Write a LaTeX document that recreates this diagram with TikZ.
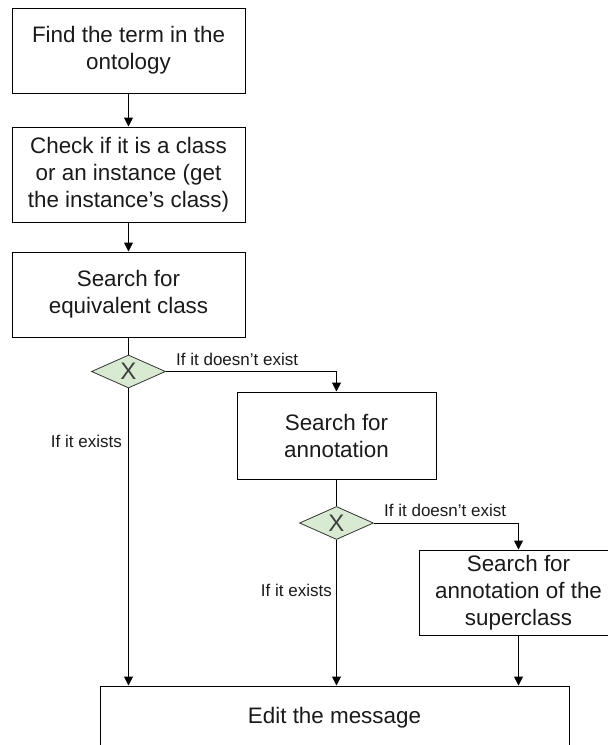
\documentclass[tikz,border=0pt]{standalone}
\usepackage{fontspec}
\setmainfont{Liberation Sans}
\usetikzlibrary{shapes.geometric,arrows.meta}
\definecolor{txt}{HTML}{1A1A1A}
\definecolor{dfill}{HTML}{D9EAD3}
\begin{document}
\begin{tikzpicture}[x=1pt,y=1pt,
  box/.style={draw=black,line width=1pt,rectangle,align=center,inner sep=0pt,text=txt,
    font=\fontsize{22.4}{27}\selectfont},
  gate/.style={draw=black!80,line width=0.8pt,diamond,fill=dfill,inner sep=0pt,
    minimum width=74pt,minimum height=33pt,text=black!75,font=\fontsize{24}{24}\selectfont},
  lbl/.style={text=txt,inner sep=0pt,font=\fontsize{17}{20}\selectfont},
  conn/.style={line width=1pt,draw=black},
  arr/.style={conn,-{Triangle[width=9pt,length=9pt]}}]
\useasboundingbox (0,0) rectangle (608,-745);
\clip (0,0) rectangle (608,-745);
\node[box,minimum width=233pt,minimum height=85pt] (b1) at (128.5,-50.5) {Find the term in the\\ontology};
\node[box,minimum width=233pt,minimum height=95pt] (b2) at (128.5,-174.5) {Check if it is a class\\or an instance (get\\the instance’s class)};
\node[box,minimum width=233pt,minimum height=85pt] (b3) at (128.5,-294.5) {Search for\\equivalent class};
\node[gate] (d1) at (128.5,-371.5) {X};
\node[box,minimum width=199pt,minimum height=87pt] (b4) at (336.5,-435.5) {Search for\\annotation};
\node[gate] (d2) at (336.5,-523) {X};
\node[box,minimum width=198pt,minimum height=85pt] (b5) at (518.5,-592.5) {Search for\\annotation of the\\superclass};
\node[box,minimum width=469pt,minimum height=64pt] (b6) at (334.5,-718) {Edit the message};

\draw[arr] (b1.south) -- (b2.north);
\draw[arr] (b2.south) -- (b3.north);
\draw[conn] (b3.south) -- (d1.north);
\draw[arr] (d1.east) -| (b4.north);
\draw[arr] (d1.south) -- (d1.south |- b6.north);
\draw[conn] (b4.south) -- (d2.north);
\draw[arr] (d2.east) -| (b5.north);
\draw[arr] (d2.south) -- (d2.south |- b6.north);
\draw[arr] (b5.south) -- (b5.south |- b6.north);

\node[lbl,anchor=base west] (l1) at (176,-365) {If it doesn’t exist};
\node[lbl,anchor=base east] (l2) at (122,-447) {If it exists};
\node[lbl,anchor=base west] (l3) at (384,-516) {If it doesn’t exist};
\node[lbl,anchor=base east] (l4) at (332,-596) {If it exists};
\end{tikzpicture}
\end{document}
